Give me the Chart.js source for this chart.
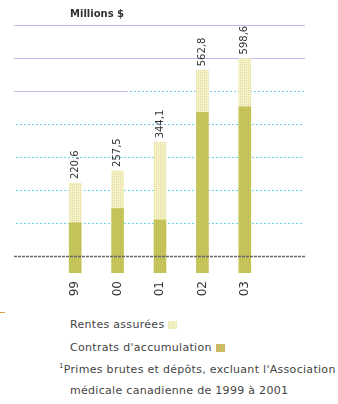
<!DOCTYPE html>
<html>
<head>
<meta charset="utf-8">
<script src="https://cdn.jsdelivr.net/npm/chart.js@4.4.0/dist/chart.umd.min.js"></script>
<style>
  body { margin: 0; background: #fff; width: 338px; height: 404px; overflow: hidden; position: relative; }
  #wrap { position: absolute; left: 0; top: 0; width: 338px; height: 310px; }
  .txt { position: absolute; font-family: "DejaVu Sans", "Liberation Sans", sans-serif; color: #444; font-size: 11px; white-space: nowrap; letter-spacing: 0.3px; }
  #unit { left: 70px; top: 8px; font-weight: bold; color: #333; font-size: 10px; letter-spacing: 0; }
  .sw { display: inline-block; width: 9px; height: 8px; margin-left: 4px; vertical-align: -1px; }
  #tick { position: absolute; left: 0; top: 312px; width: 5px; height: 1px; background: #e0a040; }
</style>
</head>
<body>
<div id="wrap"><canvas id="chart"></canvas></div>
<div class="txt" id="unit">Millions $</div>
<div id="tick"></div>
<div class="txt" style="left:70px; top:318px;">Rentes assurées<span class="sw" id="sw1"></span></div>
<div class="txt" style="left:70px; top:341px;">Contrats d'accumulation<span class="sw" id="sw2"></span></div>
<div class="txt" style="left:59px; top:362px;"><sup style="font-size:7px">1</sup>Primes brutes et dépôts, excluant l'Association</div>
<div class="txt" style="left:70px; top:384px;">médicale canadienne de 1999 à 2001</div>
<script>
// data
const years = ['99', '00', '01', '02', '03'];
const totals = [220.6, 257.5, 344.1, 562.8, 598.6];
const contrats = [100, 143, 109, 435, 452];
const rentes = [120.6, 114.5, 235.1, 127.8, 146.6];
const gridValues = [100, 200, 300, 400, 500, 600, 700];

const canvas = document.getElementById('chart');
const ctx = canvas.getContext('2d');

function makePattern(base, dotA, dotB) {
  const c = document.createElement('canvas');
  c.width = 4; c.height = 4;
  const g = c.getContext('2d');
  g.fillStyle = base; g.fillRect(0, 0, 4, 4);
  g.fillStyle = dotA; g.fillRect(0, 0, 1, 1); g.fillRect(2, 2, 1, 1); g.fillRect(2, 0, 1, 1);
  g.fillStyle = dotB; g.fillRect(0, 2, 1, 1);
  return ctx.createPattern(c, 'repeat');
}

const rentesFill = makePattern('#f5f1c4', '#dde2a8', '#f4cfa8');
const contratsFill = makePattern('#c6c75a', '#b8c04a', '#e09a7a');

// swatches next to the legend text
function paintSwatch(id, base, dot) {
  const el = document.getElementById(id);
  const c = document.createElement('canvas');
  c.width = 9; c.height = 8;
  const g = c.getContext('2d');
  g.fillStyle = base;
  g.fillRect(0, 0, 9, 8);
  g.fillStyle = dot;
  for (let x = 0; x < 9; x += 2) for (let y = (x / 2) % 2; y < 8; y += 2) g.fillRect(x, y, 1, 1);
  el.style.background = 'url(' + c.toDataURL() + ')';
}
paintSwatch('sw1', '#f5f1c4', '#dde2a8');
paintSwatch('sw2', '#c6c75a', '#e09a7a');

const LEFT = 14, RIGHT = 305;

function dotted(c, x0, x1, py, color) {
  c.fillStyle = color;
  for (let x = x0; x < x1; x += 4) c.fillRect(x, py, 2, 1);
}

// horizontal lines behind the bars
const gridPlugin = {
  id: 'gridLines',
  beforeDatasetsDraw(chart) {
    const y = chart.scales.y;
    const c = chart.ctx;
    c.save();
    gridValues.forEach(v => {
      const py = Math.round(y.getPixelForValue(v));
      if (v >= 600) {
        c.fillStyle = '#bcbcf0';
        c.fillRect(LEFT, py, RIGHT - LEFT, 1);
      } else if (v === 500) {
        c.fillStyle = '#bcbcf0';
        c.fillRect(LEFT, py, 128 - LEFT, 1);
        dotted(c, 130, RIGHT - 2, py, '#6cd2e6');
      } else {
        dotted(c, LEFT + 2, RIGHT - 2, py, '#6cd2e6');
      }
    });
    c.restore();
  },
  afterDatasetsDraw(chart) {
    const y = chart.scales.y;
    const c = chart.ctx;
    c.save();
    // zero line over the bars
    const py = Math.round(y.getPixelForValue(0)) + 0.5;
    c.setLineDash([3, 1]);
    c.strokeStyle = '#666';
    c.lineWidth = 1.5;
    c.beginPath(); c.moveTo(LEFT, py); c.lineTo(RIGHT, py); c.stroke();
    c.setLineDash([]);
    // totals above the bars
    const meta = chart.getDatasetMeta(1);
    c.font = '10px "DejaVu Sans", "Liberation Sans", sans-serif';
    c.fillStyle = '#333';
    c.textAlign = 'left';
    c.textBaseline = 'middle';
    meta.data.forEach((bar, i) => {
      c.save();
      c.translate(bar.x, bar.y - 4);
      c.rotate(-Math.PI / 2);
      c.fillText(totals[i].toFixed(1).replace('.', ','), 0, 0);
      c.restore();
    });
    c.restore();
  }
};

new Chart(canvas, {
  type: 'bar',
  data: {
    labels: years,
    datasets: [
      { label: "Contrats d'accumulation", data: contrats, backgroundColor: contratsFill, base: -52, barThickness: 12, borderWidth: 0 },
      { label: 'Rentes assurées', data: rentes, backgroundColor: rentesFill, barThickness: 12, borderWidth: 0 }
    ]
  },
  options: {
    responsive: true,
    maintainAspectRatio: false,
    animation: false,
    layout: { padding: { left: 54, right: 72, top: 25, bottom: 0 } },
    plugins: { legend: { display: false }, tooltip: { enabled: false } },
    scales: {
      x: {
        stacked: true,
        grid: { display: false },
        border: { display: false },
        afterFit(scale) { scale.height = 37; },
        ticks: {
          minRotation: 90, maxRotation: 90, padding: 0,
          color: '#333',
          font: { family: '"DejaVu Sans", "Liberation Sans", sans-serif', size: 12 }
        }
      },
      y: {
        stacked: true,
        display: false,
        min: -52,
        max: 700
      }
    }
  },
  plugins: [gridPlugin]
});
</script>
</body>
</html>
